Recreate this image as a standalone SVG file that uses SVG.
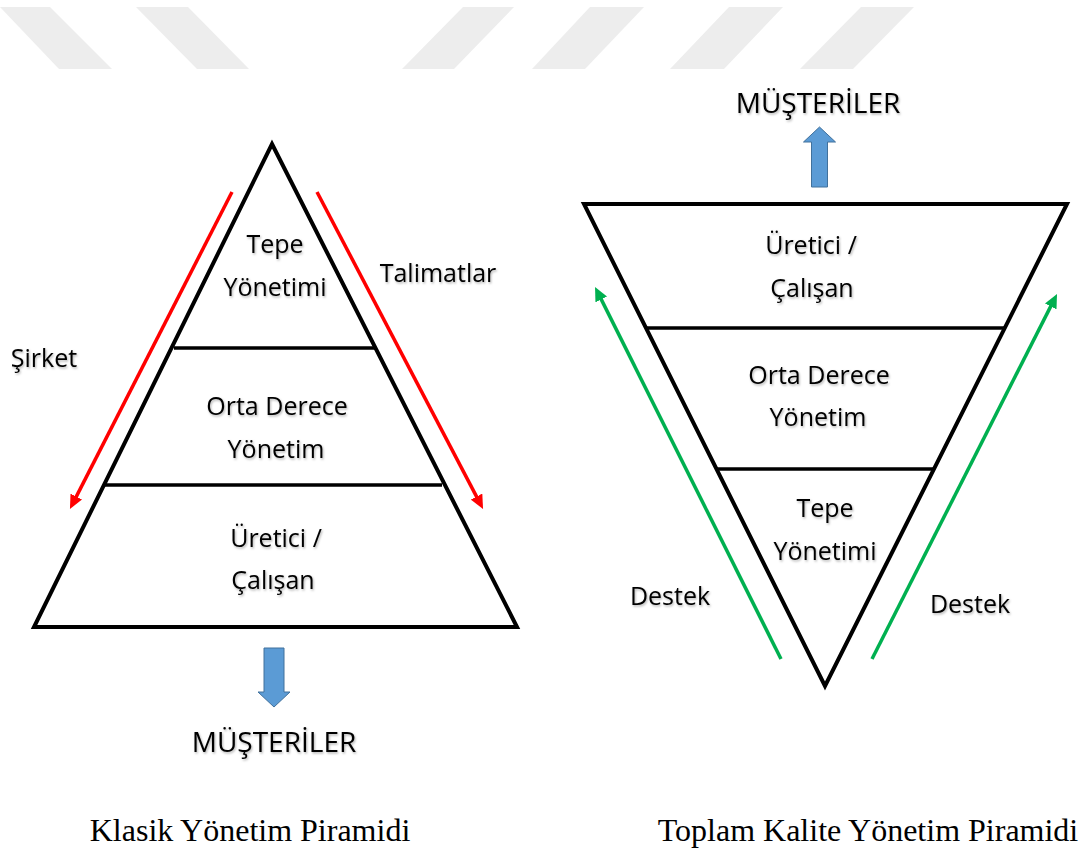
<svg xmlns="http://www.w3.org/2000/svg" width="1086" height="850" viewBox="0 0 1086 850">
  <defs>
    <filter id="shadow" x="-10%" y="-20%" width="130%" height="150%">
      <feDropShadow dx="1" dy="1.5" stdDeviation="0.9" flood-color="#000" flood-opacity="0.3"/>
    </filter>
    <marker id="head-red" viewBox="0 0 14 13" refX="4" refY="6.5" markerWidth="14" markerHeight="13" markerUnits="userSpaceOnUse" orient="auto">
      <path d="M0,0 L14,6.5 L0,13 z" fill="#FF0000"/>
    </marker>
    <marker id="head-green" viewBox="0 0 14 13" refX="4" refY="6.5" markerWidth="14" markerHeight="13" markerUnits="userSpaceOnUse" orient="auto">
      <path d="M0,0 L14,6.5 L0,13 z" fill="#00B050"/>
    </marker>
  </defs>
  <style>
    .stripe { fill: #ededed; }
    .frame { fill: none; stroke: #000; stroke-width: 4; stroke-linejoin: miter; }
    .tier { fill: none; stroke: #000; stroke-width: 3.5; }
    .lbl { font-family: "Open Sans", "Liberation Sans", sans-serif; font-size: 25px; fill: #000; text-anchor: middle; filter: url(#shadow); }
    .big { font-size: 28px; }
    .cap { font-family: "Liberation Serif", "Times New Roman", serif; font-size: 32px; fill: #000; text-anchor: middle; }
    .red { stroke: #FF0000; stroke-width: 3.5; fill: none; marker-end: url(#head-red); }
    .green { stroke: #00B050; stroke-width: 3.5; fill: none; marker-end: url(#head-green); }
    .blue { fill: #5B9BD5; stroke: #41719C; stroke-width: 1; }
  </style>

  <rect width="1086" height="850" fill="#fff"/>

  <!-- background stripes -->
  <g id="stripes">
    <polygon class="stripe" points="0,7 50,7 112,69 59,69"/>
    <polygon class="stripe" points="136,7 188,7 249,69 197,69"/>
    <polygon class="stripe" points="463,7 514,7 454,69 402,69"/>
    <polygon class="stripe" points="590,7 644,7 585,69 532,69"/>
    <polygon class="stripe" points="729,7 783,7 724,69 670,69"/>
    <polygon class="stripe" points="861,7 914,7 853,69 800,69"/>
  </g>

  <!-- classic pyramid -->
  <g id="classic-pyramid">
    <polygon class="frame" points="272,144 517,627 34,627"/>
    <line class="tier" x1="174" y1="348" x2="376" y2="348"/>
    <line class="tier" x1="105" y1="485" x2="442" y2="485"/>
  </g>
  <g id="classic-top">
    <text class="lbl" x="275" y="253">Tepe</text>
    <text class="lbl" x="275" y="296">Yönetimi</text>
  </g>
  <g id="classic-middle">
    <text class="lbl" x="277" y="415">Orta Derece</text>
    <text class="lbl" x="276" y="458">Yönetim</text>
  </g>
  <g id="classic-bottom">
    <text class="lbl" x="276" y="547">Üretici /</text>
    <text class="lbl" x="273" y="589">Çalışan</text>
  </g>
  <g id="classic-customers">
    <polygon class="blue" points="264,648 284,648 284,692 290,692 274,707 258,692 264,692"/>
    <text class="lbl big" x="274" y="752">MÜŞTERİLER</text>
  </g>
  <g id="classic-side-labels">
    <text class="lbl" x="44" y="367">Şirket</text>
    <text class="lbl" x="438" y="282">Talimatlar</text>
  </g>

  <!-- total quality pyramid -->
  <g id="tqm-pyramid">
    <polygon class="frame" points="584,204 1067,204 825,686"/>
    <line class="tier" x1="646" y1="328" x2="1004" y2="328"/>
    <line class="tier" x1="716" y1="469" x2="934" y2="469"/>
  </g>
  <g id="tqm-top">
    <text class="lbl" x="811" y="254">Üretici /</text>
    <text class="lbl" x="812" y="297">Çalışan</text>
  </g>
  <g id="tqm-middle">
    <text class="lbl" x="819" y="384">Orta Derece</text>
    <text class="lbl" x="818" y="426">Yönetim</text>
  </g>
  <g id="tqm-bottom">
    <text class="lbl" x="825" y="517">Tepe</text>
    <text class="lbl" x="825" y="560">Yönetimi</text>
  </g>
  <g id="tqm-customers">
    <polygon class="blue" points="811.5,187 827.5,187 827.5,142 835.5,142 819.5,127 803.5,142 811.5,142"/>
    <text class="lbl big" x="818" y="113">MÜŞTERİLER</text>
  </g>
  <g id="tqm-side-labels">
    <text class="lbl" x="670" y="605">Destek</text>
    <text class="lbl" x="970" y="613">Destek</text>
  </g>

  <!-- flow arrows -->
  <g id="connectors">
    <line class="red" x1="232" y1="192" x2="74.5" y2="500.1"/>
    <line class="red" x1="317" y1="192" x2="478.4" y2="500.1"/>
    <line class="green" x1="781" y1="659" x2="599.5" y2="295.9"/>
    <line class="green" x1="872" y1="659" x2="1052.5" y2="302.9"/>
  </g>

  <!-- captions -->
  <g id="captions">
    <text class="cap" x="250" y="841">Klasik Yönetim Piramidi</text>
    <text class="cap" x="868" y="841">Toplam Kalite Yönetim Piramidi</text>
  </g>
</svg>
